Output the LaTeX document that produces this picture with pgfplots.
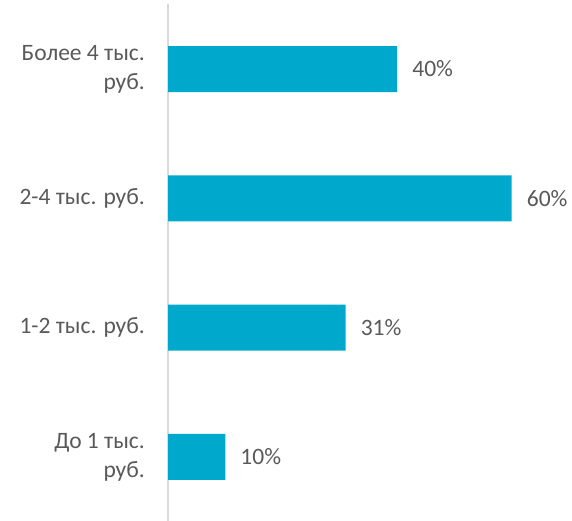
\documentclass[border=0pt]{standalone}
\usepackage{pgfplots}
\pgfplotsset{compat=1.18}
\usepackage{fontspec}
\setmainfont{Carlito}
\definecolor{barblue}{RGB}{0,169,204}
\definecolor{labelgray}{RGB}{89,89,89}
\definecolor{axisgray}{RGB}{217,217,217}

\begin{document}
\begin{tikzpicture}
\useasboundingbox (0,0) rectangle (572pt,521pt);
\begin{axis}[
  at={(168pt,-0.6pt)}, anchor=south west,
  scale only axis, width=401pt, height=517.2pt,
  xbar, bar width=46pt,
  xmin=0, xmax=70,
  ymin=-0.5, ymax=3.5,
  ytick={0,1,2,3},
  yticklabels={{До 1 тыс.\\руб.},{1-2 тыс. руб.},{2-4 тыс. руб.},{Более 4 тыс.\\руб.}},
  yticklabel style={align=right, font=\fontsize{23.5}{29}\selectfont, text=labelgray, inner sep=0pt, xshift=-23pt},
  major tick length=0pt,
  xtick=\empty,
  axis x line=none,
  axis y line*=left,
  y axis line style={draw=axisgray, line width=1.5pt},
  /pgf/number format/assume math mode=true,
  nodes near coords={\pgfmathprintnumber{\pgfplotspointmeta}\%},
  nodes near coords style={font=\fontsize{23.5}{29}\selectfont, text=labelgray, anchor=west, inner sep=0pt, xshift=15pt},
  clip=false,
]
\addplot[fill=barblue, draw=none] coordinates {(10,0) (31,1) (60,2) (40,3)};
\end{axis}
\end{tikzpicture}
\end{document}
